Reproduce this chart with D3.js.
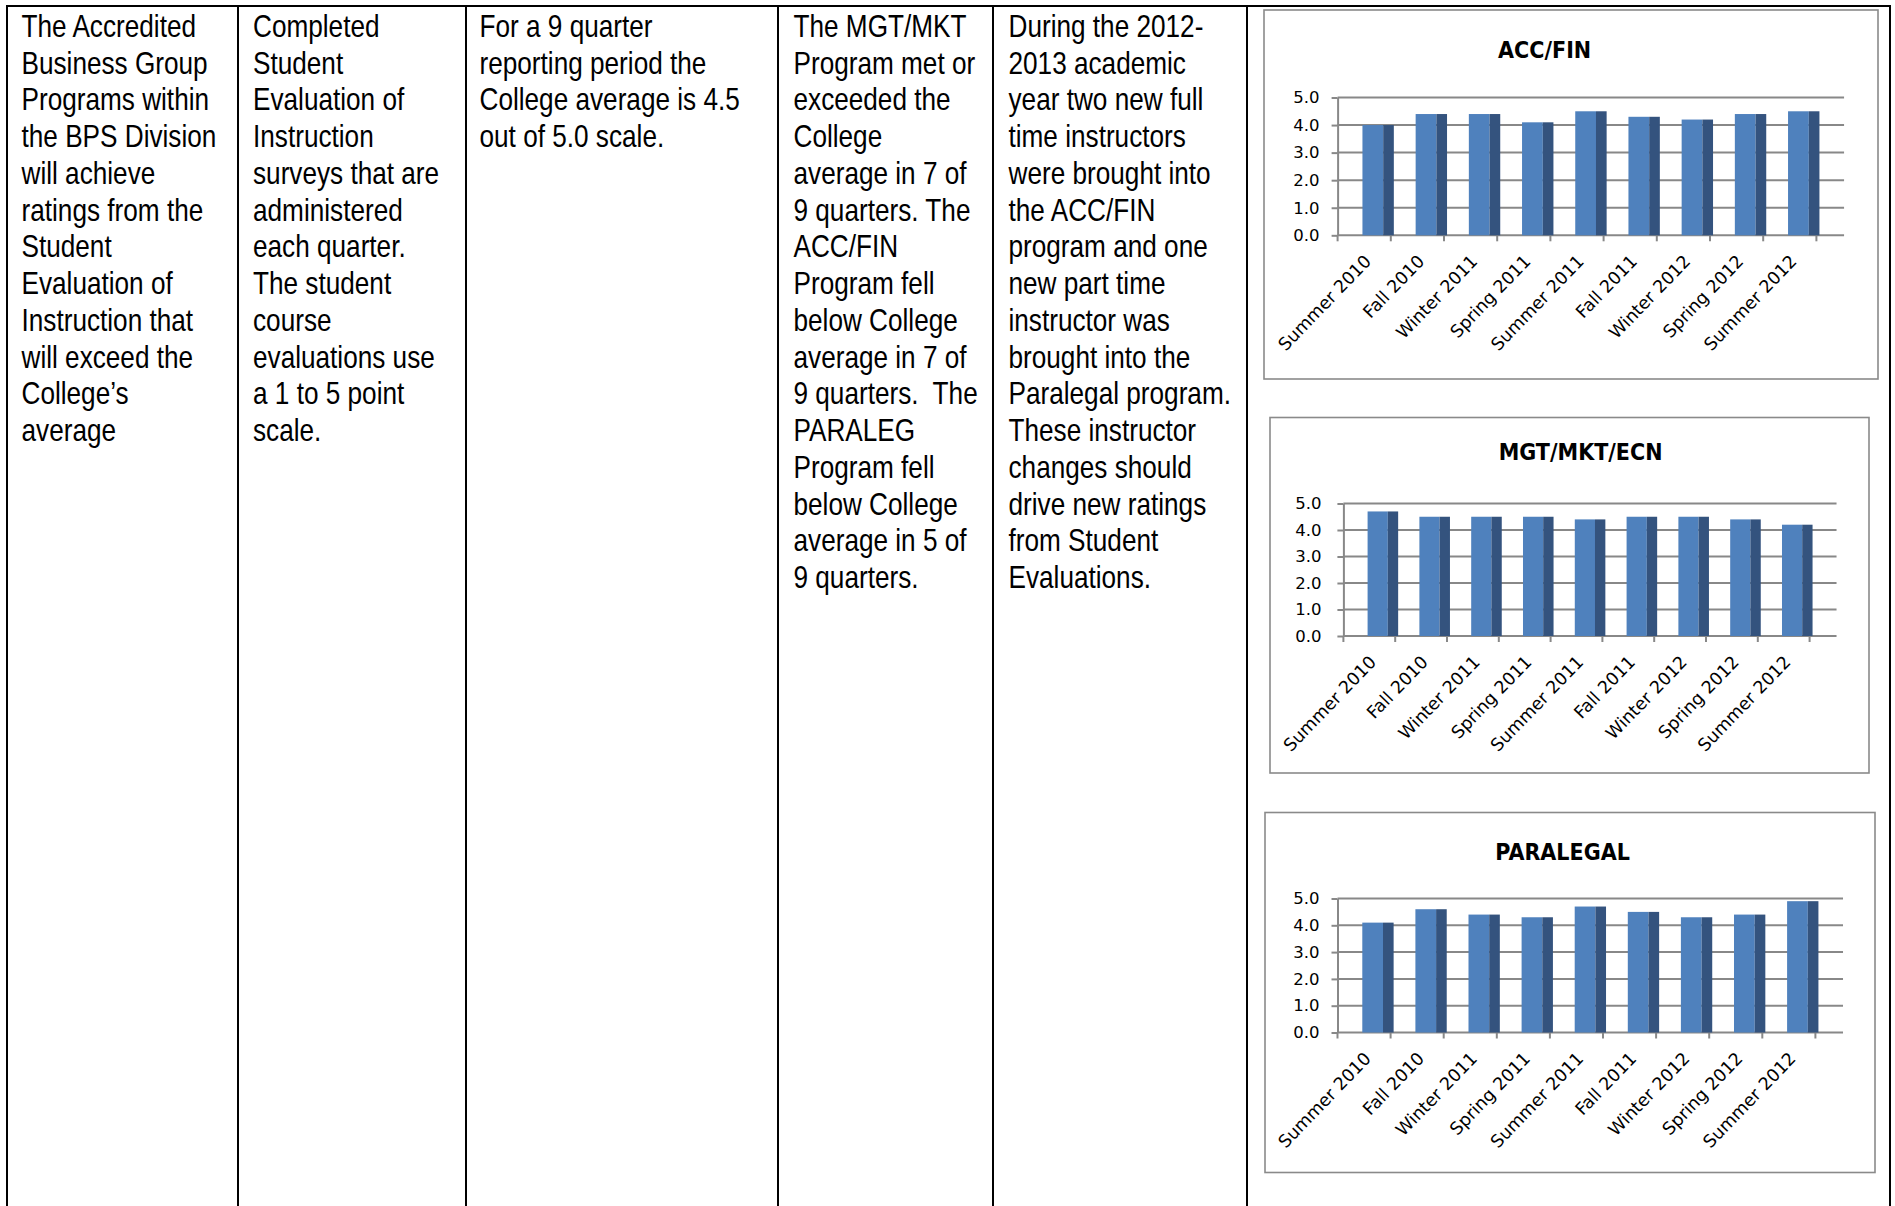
<!DOCTYPE html>
<html><head><meta charset="utf-8">
<script src="https://cdn.jsdelivr.net/npm/d3@7"></script>
<style>html,body{margin:0;padding:0;background:#fff;overflow:hidden}</style>
</head><body><svg id="c" width="1895" height="1206"></svg>
<script>
// ---------- DATA ----------
const categories = ["Summer 2010","Fall 2010","Winter 2011","Spring 2011","Summer 2011","Fall 2011","Winter 2012","Spring 2012","Summer 2012"];
const accFin    = [4.0, 4.4, 4.4, 4.1, 4.5, 4.3, 4.2, 4.4, 4.5];
const mgtMktEcn = [4.7, 4.5, 4.5, 4.5, 4.4, 4.5, 4.5, 4.4, 4.2];
const paralegal = [4.1, 4.6, 4.4, 4.3, 4.7, 4.5, 4.3, 4.4, 4.9];
const yTicks = [0, 1, 2, 3, 4, 5];
const chartTitles = ["ACC/FIN", "MGT/MKT/ECN", "PARALEGAL"];

const col1Text = ["The Accredited","Business Group","Programs within","the BPS Division","will achieve","ratings from the","Student","Evaluation of","Instruction that","will exceed the","College\u2019s","average"];
const col2Text = ["Completed","Student","Evaluation of","Instruction","surveys that are","administered","each quarter.","The student","course","evaluations use","a 1 to 5 point","scale."];
const col3Text = ["For a 9 quarter","reporting period the","College average is 4.5","out of 5.0 scale."];
const col4Text = ["The MGT/MKT","Program met or","exceeded the","College","average in 7 of","9 quarters. The","ACC/FIN","Program fell","below College","average in 7 of","9 quarters.  The","PARALEG","Program fell","below College","average in 5 of","9 quarters."];
const col5Text = ["During the 2012-","2013 academic","year two new full","time instructors","were brought into","the ACC/FIN","program and one","new part time","instructor was","brought into the","Paralegal program.","These instructor","changes should","drive new ratings","from Student","Evaluations."];

// ---------- LAYOUT ----------
const svg = d3.select("#c");

function hasFont(name){
  const ctx = document.createElement("canvas").getContext("2d");
  const s = "Business Group WWWiii 0123";
  for (const base of ["monospace","serif"]) {
    ctx.font = "40px " + base; const a = ctx.measureText(s).width;
    ctx.font = '40px "' + name + '", ' + base; const b = ctx.measureText(s).width;
    if (Math.abs(a-b) > 0.5) return true;
  }
  return false;
}
let bodyFont = '"Liberation Sans", Arial, sans-serif';
if (hasFont("Liberation Sans Narrow")) bodyFont = '"Liberation Sans Narrow"';
else if (hasFont("Arial Narrow")) bodyFont = '"Arial Narrow"';
const fs = 30.5;

// calibrate horizontal scale so the text widths match the reference
const probes = [["College average is 4.5", 261], ["Paralegal program.", 222], ["the BPS Division", 195]];
let ratioSum = 0;
probes.forEach(([s, target]) => {
  const t = svg.append("text").attr("font-family", bodyFont).attr("font-size", fs).text(s);
  ratioSum += target / t.node().getComputedTextLength();
  t.remove();
});
const sx = ratioSum / probes.length;

// table borders
const colLines = [7, 238, 466, 778, 993, 1247, 1890];
svg.append("line").attr("x1", 6).attr("x2", 1891).attr("y1", 6).attr("y2", 6)
  .attr("stroke", "#000").attr("stroke-width", 2);
colLines.forEach(x => svg.append("line").attr("x1", x).attr("x2", x).attr("y1", 5).attr("y2", 1220)
  .attr("stroke", "#000").attr("stroke-width", 2));

// table text
const cols = [
  {x: 21.5, lines: col1Text},
  {x: 253, lines: col2Text},
  {x: 479.5, lines: col3Text},
  {x: 793.5, lines: col4Text},
  {x: 1008.5, lines: col5Text}
];
const lineH = 36.75, firstBase = 37;
cols.forEach(c => {
  const g = svg.append("g").attr("transform", `translate(${c.x},0) scale(${sx},1)`);
  g.selectAll("text").data(c.lines).join("text")
    .attr("x", 0).attr("y", (d, i) => firstBase + i * lineH)
    .attr("font-family", bodyFont).attr("font-size", fs).attr("fill", "#000")
    .style("white-space", "pre").attr("xml:space", "preserve")
    .text(d => d);
});

// ---------- CHARTS ----------
const chartFont = '"DejaVu Sans", Verdana, sans-serif';
const titleFont = '"DejaVu Sans Condensed", "DejaVu Sans", sans-serif';
const charts = [
  {title: chartTitles[0], values: accFin,    box: [1264, 10, 1878, 379],    axisX: 1337.6, band: 53.2, y5: 97.5,  y0: 235.3,  tx: 1544.6, ty: 57.5, lab: 18},
  {title: chartTitles[1], values: mgtMktEcn, box: [1270, 417.5, 1869, 773], axisX: 1343.4, band: 51.8, y5: 503.5, y0: 636,    tx: 1580.6, ty: 459.5, lab: 22},
  {title: chartTitles[2], values: paralegal, box: [1265, 812.5, 1875, 1172.5], axisX: 1337.5, band: 53.1, y5: 898.5, y0: 1032.5, tx: 1562.6, ty: 859.5, lab: 18}
];
const gridColor = "#888888";

charts.forEach(ch => {
  const g = svg.append("g");
  const [bx0, by0, bx1, by1] = ch.box;
  g.append("rect").attr("x", bx0).attr("y", by0).attr("width", bx1 - bx0).attr("height", by1 - by0)
    .attr("fill", "#fff").attr("stroke", "#8a8a8a").attr("stroke-width", 1.6);

  g.append("text").attr("x", ch.tx).attr("y", ch.ty).attr("text-anchor", "middle")
    .attr("font-family", titleFont).attr("font-weight", "bold").attr("font-size", 23)
    .attr("fill", "#000").text(ch.title);

  const xs = d3.scaleBand().domain(categories).range([ch.axisX, ch.axisX + 9 * ch.band]).padding(0);
  const ys = d3.scaleLinear().domain([0, 5]).range([ch.y0, ch.y5]);
  const bw = xs.bandwidth();
  const gridEnd = ch.axisX + 9.52 * ch.band;

  // gridlines
  g.selectAll("line.grid").data(yTicks).join("line").attr("class", "grid")
    .attr("x1", ch.axisX).attr("x2", gridEnd).attr("y1", d => ys(d)).attr("y2", d => ys(d))
    .attr("stroke", gridColor).attr("stroke-width", 2);

  // y axis
  const yAxis = d3.axisLeft(ys).tickValues(yTicks).tickFormat(d3.format(".1f"))
    .tickSize(6).tickSizeOuter(0).tickPadding(ch.lab - 6);
  const ya = g.append("g").attr("transform", `translate(${ch.axisX},0)`).call(yAxis);
  ya.select(".domain").attr("stroke", gridColor).attr("stroke-width", 2);
  ya.selectAll(".tick line").attr("stroke", gridColor).attr("stroke-width", 2);
  ya.selectAll(".tick text").attr("font-family", chartFont).attr("font-size", 16.5).attr("fill", "#000");

  // category boundary ticks
  const bounds = d3.range(categories.length + 1).map(i => ch.axisX + i * xs.step());
  g.selectAll("line.ct").data(bounds).join("line").attr("class", "ct")
    .attr("x1", d => d).attr("x2", d => d).attr("y1", ch.y0).attr("y2", ch.y0 + 6)
    .attr("stroke", gridColor).attr("stroke-width", 2);

  // bars: front face + dark side face
  const data = categories.map((c, i) => ({c, v: ch.values[i]}));
  g.selectAll("rect.front").data(data).join("rect").attr("class", "front")
    .attr("x", d => xs(d.c) + 0.467 * bw).attr("width", 0.39 * bw)
    .attr("y", d => ys(d.v)).attr("height", d => ys(0) - ys(d.v))
    .attr("fill", "#4f81bd");
  g.selectAll("rect.side").data(data).join("rect").attr("class", "side")
    .attr("x", d => xs(d.c) + 0.857 * bw).attr("width", 0.2 * bw)
    .attr("y", d => ys(d.v)).attr("height", d => ys(0) - ys(d.v))
    .attr("fill", "#34537e");

  // rotated category labels
  g.selectAll("text.cat").data(categories).join("text").attr("class", "cat")
    .attr("transform", d => `translate(${xs(d) + bw / 2 + 8},${ch.y0 + 27}) rotate(-46)`)
    .attr("text-anchor", "end").attr("font-family", chartFont).attr("font-size", 17.5)
    .attr("fill", "#000").text(d => d);
});
</script>
</body></html>
